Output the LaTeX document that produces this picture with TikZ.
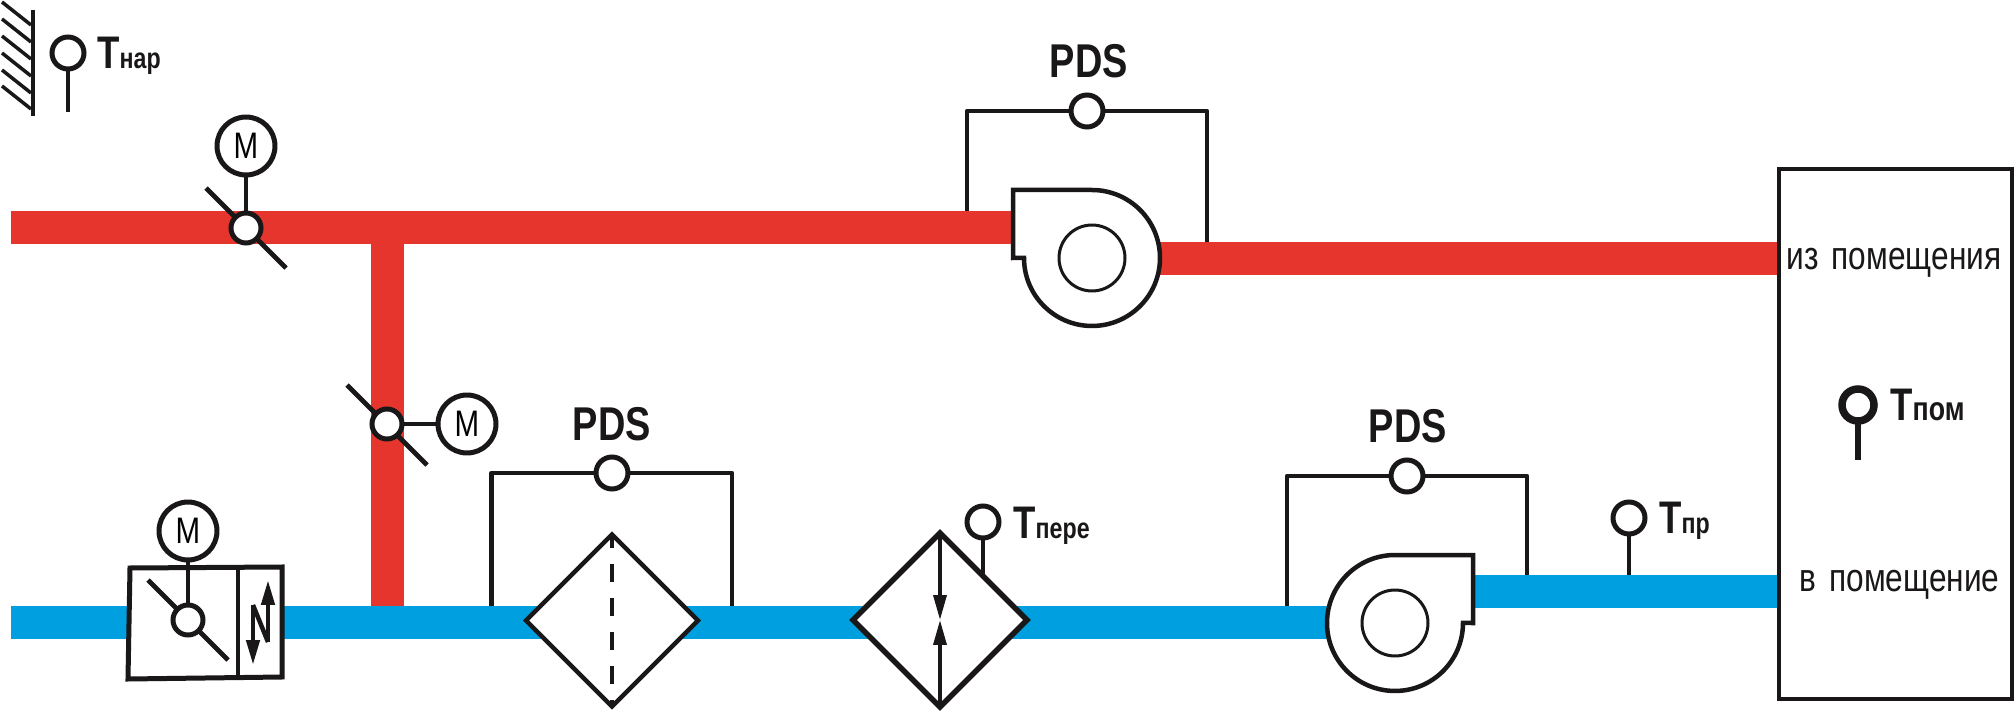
\documentclass[tikz,border=0pt]{standalone}
\usepackage{fontspec}
\usetikzlibrary{positioning,arrows.meta,shapes.geometric}
\newfontfamily\labelfont[FakeStretch=0.8]{Liberation Sans}
\definecolor{ink}{HTML}{1A1718}
\definecolor{hotair}{HTML}{E5352D}
\definecolor{coldair}{HTML}{009FE0}
\newcommand{\tname}[2][16.5]{{\fontsize{26}{26}\selectfont T}{\fontsize{#1}{#1}\selectfont #2}}
\tikzset{
  pipe/.style={line width=.66cm},
  wire/.style={draw=ink, line width=.095cm, line join=round},
  sensor/.style={circle, draw=ink, fill=white, line width=.1cm, inner sep=0pt, outer sep=0pt, minimum size=.64cm},
  motor/.style={sensor, minimum size=1.16cm, font=\labelfont\fontsize{21}{21}\selectfont},
  pdslabel/.style={font=\labelfont\bfseries\fontsize{27}{27}\selectfont, text=ink, inner sep=0pt},
  tlabel/.style={font=\labelfont\bfseries, text=ink, inner sep=0pt, anchor=base west},
  roomlabel/.style={font=\labelfont\fontsize{22.5}{22.5}\selectfont, text=ink, inner sep=0pt, anchor=base west},
  filterbox/.style={diamond, aspect=1, draw=ink, fill=white, inner sep=0pt, outer sep=0pt},
  fanbody/.style={draw=ink, fill=white, line width=.09cm, line join=miter},
  impeller/.style={circle, draw=ink, line width=.06cm, inner sep=0pt, minimum size=1.32cm},
  tip/.style={-{Triangle[length=.5cm, width=.26cm]}}
}
\begin{document}
\begin{tikzpicture}[x=.02cm, y=.02cm]
    \useasboundingbox (0,0) rectangle (2016,711);

    % Pipe ends
    \coordinate (redin) at (11,483.5);
    \coordinate (redfan) at (1030,483.5);
    \coordinate (redtee) at (387.5,483.5);
    \coordinate (redout) at (1100,452.5);
    \coordinate (redroom) at (1790,452.5);
    \coordinate (bluein) at (11,88.5);
    \coordinate (bluetee) at (387.5,88.5);
    \coordinate (bluefan) at (1395,88.5);
    \coordinate (blueout) at (1460,119.5);
    \coordinate (blueroom) at (1790,119.5);

    % Pipes
    \draw[pipe, hotair] (redin) -- (redfan);
    \draw[pipe, hotair] (redout) -- (redroom);
    \draw[pipe, hotair] (redtee) -- (bluetee);
    \draw[pipe, coldair] (bluein) -- (bluefan);
    \draw[pipe, coldair] (blueout) -- (blueroom);

    % Room
    \node[draw=ink, fill=white, line width=.09cm, inner sep=0pt, minimum width=4.66cm, minimum height=10.6cm] (room) at (1895.5,277) {};
    \node[roomlabel] (roomout) at (1786,441) {из\,\,помещения};
    \node[roomlabel] (roomin) at (1799,120) {в\,\,помещение};

    % Outside wall
    \draw[ink, line width=.1cm] (33,701) -- (33,595);
    \foreach \h in {709,692,675,658,641,625}
        \draw[ink, line width=.07cm] (2,\h) -- (31,\h-23);

    % Temperature sensors
    \coordinate (tnarend) at (68,599);
    \coordinate (tperend) at (983,136);
    \coordinate (tprend) at (1629,136);
    \coordinate (tpomend) at (1858,251);
    \draw[wire] (68,658) -- (tnarend);
    \node[sensor] (tnar) at (68,658) {};
    \node[tlabel] (tnarlabel) at (97,642) {\tname{нар}};
    \draw[wire] (1629,193) -- (tprend);
    \node[sensor] (tpr) at (1629,193) {};
    \node[tlabel] (tprlabel) at (1659,178) {\tname{пр}};
    \draw[ink, line width=.13cm] (1858,306) -- (tpomend);
    \node[sensor, line width=.15cm] (tpom) at (1858,306) {};
    \node[tlabel] (tpomlabel) at (1890,291) {\tname[19]{пом}};

    % Dampers
    \coordinate (d1a) at (206,523);
    \coordinate (d1b) at (286,443);
    \coordinate (d2a) at (347,326);
    \coordinate (d2b) at (427,246);
    \draw[wire] (d1a) -- (d1b);
    \draw[wire] (d2a) -- (d2b);
    \node[sensor, minimum size=.6cm] (d1) at (246,483) {};
    \node[sensor, minimum size=.6cm] (d2) at (387,287) {};
    \node[motor] (m1) at (246,565) {M};
    \node[motor] (m2) at (467,287) {M};
    \draw[wire] (m1) -- (d1);
    \draw[wire] (m2) -- (d2);

    % Recuperator bypass box
    \draw[ink, fill=white, line width=.1cm] (130,143) -- (282,144) -- (282,34) -- (128,32) -- cycle;
    \draw[ink, line width=.09cm] (238,144) -- (238,33);
    \coordinate (d3a) at (148,131);
    \coordinate (d3b) at (228,51);
    \draw[wire] (d3a) -- (d3b);
    \node[sensor, minimum size=.6cm] (d3) at (188,91) {};
    \node[motor] (m3) at (188,180) {M};
    \draw[wire] (m3) -- (d3);
    \draw[ink, line width=.09cm, tip] (253,106) -- (253,46);
    \draw[ink, line width=.09cm, tip] (268,69) -- (268,131);
    \draw[ink, line width=.09cm] (253,106) -- (268,69);

    % Filter and heater
    \node[filterbox, line width=.09cm, minimum size=3.44cm] (filter) at (612,90.5) {};
    \draw[ink, line width=.08cm, dash pattern=on 9.9pt off 9.4pt, dash phase=2.3pt] (filter.north) -- (filter.south);
    \node[filterbox, line width=.11cm, minimum size=3.48cm] (heater) at (940,91) {};
    \coordinate (heatmid) at (940,91);
    \draw[ink, line width=.07cm, tip] (heater.north) -- (heatmid);
    \draw[ink, line width=.07cm, tip] (heater.south) -- (heatmid);
    \draw[wire] (983,189) -- (tperend);
    \node[sensor] (tper) at (983,189) {};
    \node[tlabel] (tperlabel) at (1013,173) {\tname{пере}};

    % Fans
    \draw[fanbody] (1013,521) -- (1092,521) arc[start angle=90, end angle=-180, radius=1.36cm] -- (1013,453) -- cycle;
    \node[impeller] (fan1) at (1092,453) {};
    \draw[fanbody] (1473,156) -- (1395,156) arc[start angle=90, end angle=360, radius=1.36cm] -- (1473,88) -- cycle;
    \node[impeller] (fan2) at (1395,88) {};

    % Pressure switches
    \coordinate (p1a) at (967,500);
    \coordinate (p1b) at (1207,469);
    \coordinate (p2a) at (491.5,105);
    \coordinate (p2b) at (732,105);
    \coordinate (p3a) at (1287,105);
    \coordinate (p3b) at (1527,136);
    \node[sensor] (pds1) at (1087,600) {};
    \node[sensor] (pds2) at (612,238) {};
    \node[sensor] (pds3) at (1407,235) {};
    \draw[wire] (pds1) -| (p1a);
    \draw[wire] (pds1) -| (p1b);
    \draw[wire] (pds2) -| (p2a);
    \draw[wire] (pds2) -| (p2b);
    \draw[wire] (pds3) -| (p3a);
    \draw[wire] (pds3) -| (p3b);
    \node[pdslabel] (pds1label) at (1089,649.5) {PDS};
    \node[pdslabel] (pds2label) at (612,287) {PDS};
    \node[pdslabel] (pds3label) at (1408,285) {PDS};

\end{tikzpicture}
\end{document}
